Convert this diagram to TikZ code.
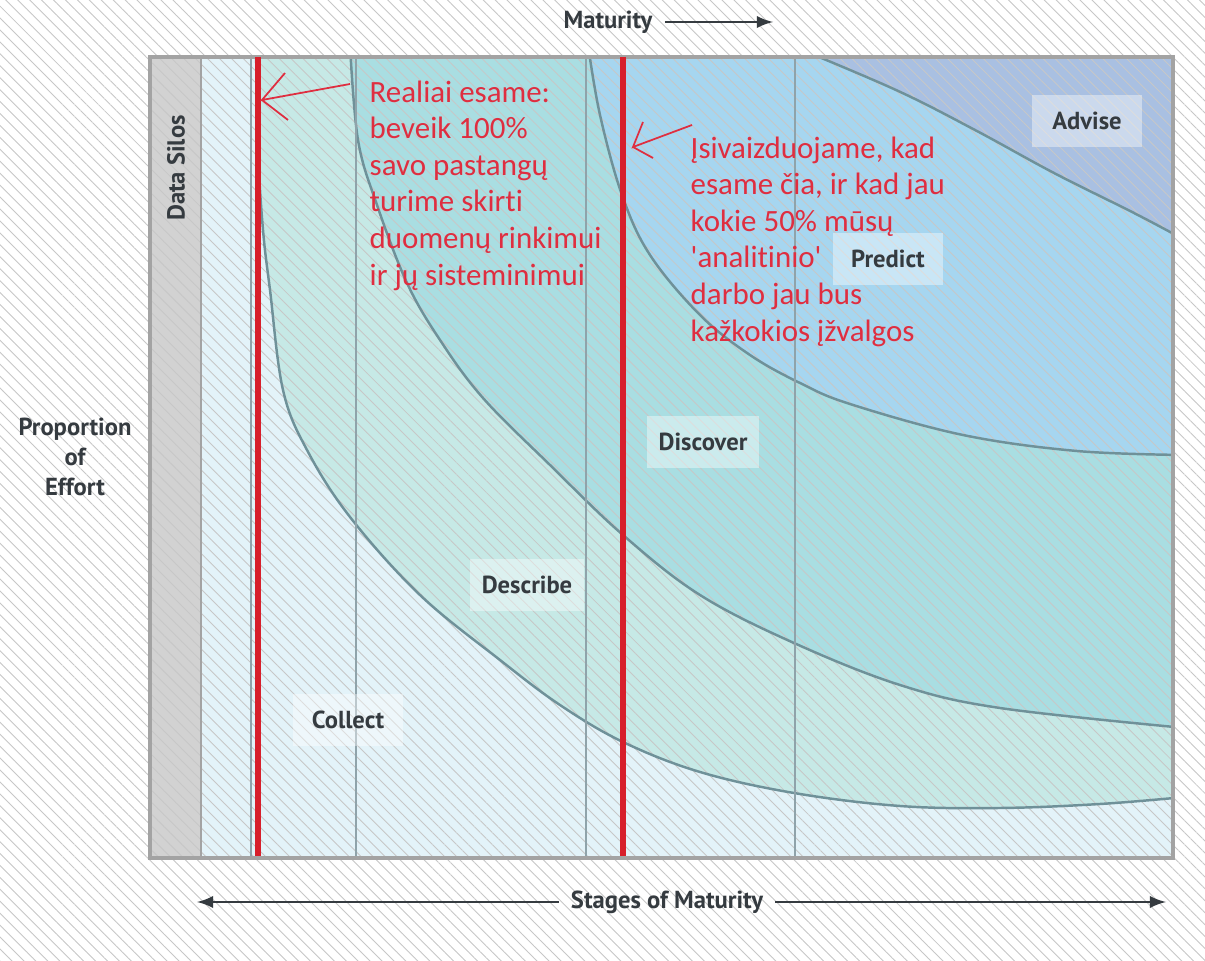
\documentclass[tikz,border=0pt]{standalone}
\usepackage{fontspec}
\setmainfont{PT Sans}
\newfontfamily\notefont[Ligatures={NoCommon}]{Carlito}
\usepackage{tikz}
\usetikzlibrary{positioning,patterns.meta}
\newcommand{\pxUnit}{0.01cm}
\newcommand{\frameTop}{57}
\newcommand{\frameBottom}{858}
% band edges, left to right
\newcommand{\describeEdge}{plot[smooth, tension=0.6] coordinates {(256,45) (258,150) (263,230) (270,290) (283,390) (307,450) (350,517) (420,595) (500,660) (560,705) (623,742) (700,772) (794,793) (900,806) (1000,808) (1100,804) (1185,797)}}
\newcommand{\discoverEdge}{plot[smooth, tension=0.6] coordinates {(350,45) (358,140) (377,205) (407,283) (440,340) (483,398) (550,465) (623,535) (700,595) (794,643) (900,685) (1000,708) (1185,728)}}
\newcommand{\predictEdge}{plot[smooth, tension=0.6] coordinates {(588,45) (600,115) (622,195) (650,255) (700,315) (750,355) (800,383) (850,404) (963,435) (1077,451) (1185,455)}}
\newcommand{\adviseEdge}{plot[smooth, tension=0.6] coordinates {(790,45) (896,90) (975,130) (1054,173) (1134,213) (1185,240)}}

\definecolor{collectfill}{HTML}{E3F3F9}
\definecolor{describefill}{HTML}{C6E9E6}
\definecolor{discoverfill}{HTML}{A9DEE2}
\definecolor{predictfill}{HTML}{A6D6F0}
\definecolor{advisefill}{HTML}{A9C0E2}
\definecolor{silofill}{HTML}{D2D2D2}
\definecolor{curvegray}{HTML}{6F9199}
\definecolor{stagegray}{HTML}{8FA3AA}
\definecolor{framegray}{HTML}{A3A3A3}
\definecolor{notered}{HTML}{DF2E40}
\definecolor{linered}{HTML}{D71F2B}
\definecolor{labelgray}{HTML}{353B40}

\begin{document}
\begin{tikzpicture}[x=\pxUnit, y=-\pxUnit, >=latex,
		band/.style={draw=curvegray, line width=0.7pt},
		stageline/.style={draw=stagegray, line width=0.4pt},
		redline/.style={draw=linered, line width=1.5pt},
		stagebox/.style={fill=white, fill opacity=0.4, text opacity=1, text=labelgray, minimum width=1.1cm, minimum height=0.52cm, font=\bfseries\fontsize{7}{8}\selectfont},
		note/.style={text=notered, align=left, inner sep=0pt, font=\notefont\fontsize{8.8}{10.4}\selectfont},
		pen/.style={draw=notered, line width=0.5pt},
		axis/.style={text=labelgray, font=\bfseries\fontsize{7}{8.5}\selectfont}]
	\useasboundingbox (0,0) rectangle (1205,961);
	\fill[white] (0,0) rectangle (1205,961);
	\coordinate (tl) at (150,\frameTop);
	\coordinate (br) at (1173,\frameBottom);
		% stages as bands
		\fill[collectfill] (201,\frameTop) rectangle (br);
		\fill[silofill] (tl) rectangle (201,\frameBottom);
		\begin{scope}
			\clip (201,\frameTop) rectangle (br);
			\fill[describefill] \describeEdge -- (1185,45) -- cycle;
			\fill[discoverfill] \discoverEdge -- (1185,45) -- cycle;
			\fill[predictfill] \predictEdge -- (1185,45) -- cycle;
			\fill[advisefill] \adviseEdge -- (1185,45) -- cycle;
		\end{scope}
	% hatching over the whole sheet
	\fill[pattern={Lines[angle=-45,distance=2.4pt,line width=0.25pt]}, pattern color=black!22] (0,0) rectangle (1205,961);
		\begin{scope}
			\clip (201,\frameTop) rectangle (br);
			\draw[band] \describeEdge;
			\draw[band] \discoverEdge;
			\draw[band] \predictEdge;
			\draw[band] \adviseEdge;
		\end{scope}
		\foreach \sx in {251,356,586,795}
			\draw[stageline] (\sx,\frameTop) -- (\sx,\frameBottom);
		\draw[framegray, line width=0.6pt] (201,\frameTop) -- (201,\frameBottom);
		\draw[framegray, line width=1pt] (tl) rectangle (br);
		\draw[redline] (258,\frameTop) -- (258,856);
		\draw[redline] (623,\frameTop) -- (623,856);
	% stage labels
	\node[stagebox] (advise) at (1087,121) {Advise};
	\node[stagebox] (predict) at (888,259) {Predict};
	\node[stagebox] (discover) at (703,442) {Discover};
	\node[stagebox] (describe) at (527,585) {Describe};
	\node[stagebox] (collect) at (348,720) {Collect};
	\node[axis, rotate=90] (silos) at (176,168) {Data Silos};
	\node[axis, align=center] (effort) at (75,457) {Proportion\\of\\Effort};
	% axes
	\node[axis] (maturity) at (608,22) {Maturity};
	\coordinate (maturityEnd) at (773,22);
	\draw[->, labelgray, line width=0.6pt] (maturity) -- (maturityEnd);
	\node[axis] (stages) at (667,902) {Stages of Maturity};
	\coordinate (stagesLeft) at (197,902);
	\coordinate (stagesRight) at (1166,902);
	\draw[->, labelgray, line width=0.6pt] (stages) -- (stagesLeft);
	\draw[->, labelgray, line width=0.6pt] (stages) -- (stagesRight);
	% notes
	\node[note, anchor=north west] (real) at (369,80) {Realiai esame:\\beveik 100\%\\savo pastangų\\turime skirti\\duomenų rinkimui\\ir jų sisteminimui};
	\node[note, anchor=north west] (imagine) at (690,136) {Įsivaizduojame, kad\\esame čia, ir kad jau\\kokie 50\% mūsų\\\textquotesingle analitinio\textquotesingle\\darbo jau bus\\kažkokios įžvalgos};
	\coordinate (realTip) at (262,100);
	\coordinate (realTail) at (350,84);
	\draw[pen] (realTail) -- (realTip) -- ++(23,-27) (realTip) -- ++(26,20);
	\coordinate (imagineTip) at (633,147);
	\coordinate (imagineTail) at (692,125);
	\draw[pen] (imagineTail) -- (imagineTip) -- ++(10,-25) (imagineTip) -- ++(20,11);
\end{tikzpicture}
\end{document}
